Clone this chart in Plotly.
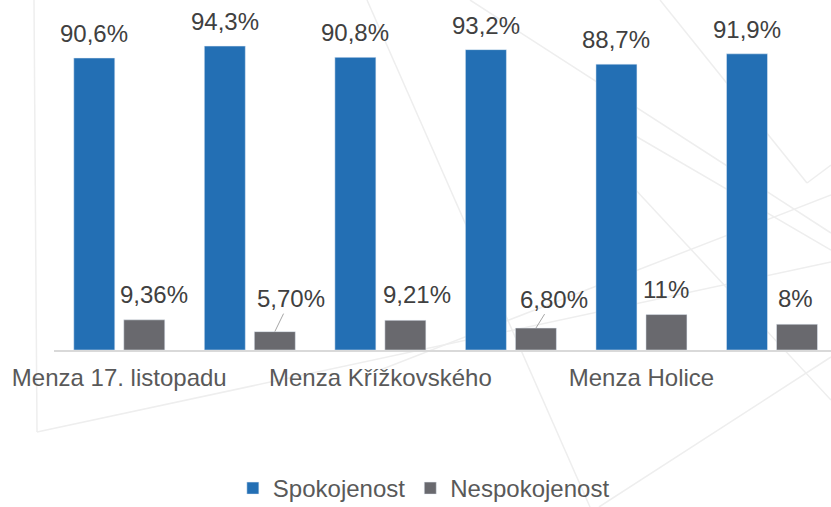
import plotly.graph_objects as go

# ---- data ----
menzy = ["Menza 17. listopadu", "Menza Křížkovského", "Menza Holice"]
spokojenost = [90.6, 94.3, 90.8, 93.2, 88.7, 91.9]
nespokojenost = [9.36, 5.70, 9.21, 6.80, 11, 8]
spok_labels = ["90,6%", "94,3%", "90,8%", "93,2%", "88,7%", "91,9%"]
nesp_labels = ["9,36%", "5,70%", "9,21%", "6,80%", "11%", "8%"]

# ---- styling ----
W, H = 831, 507
ML, MR, MT, MB = 54, 0, 0, 157
FONT = "Liberation Sans, Arial, sans-serif"
BLUE = "#236fb4"
GRAY = "#69696e"
LABEL_C = "#404040"
AXIS_C = "#595959"

xs = list(range(len(spokojenost)))

fig = go.Figure()
fig.add_trace(go.Bar(name="Spokojenost", x=xs, y=spokojenost,
                     marker=dict(color=BLUE), hoverinfo="skip"))
fig.add_trace(go.Bar(name="Nespokojenost", x=xs, y=nespokojenost,
                     marker=dict(color=GRAY), hoverinfo="skip"))

annotations = []
# blue labels, centered above bars
for i, (v, t) in enumerate(zip(spokojenost, spok_labels)):
    annotations.append(dict(x=i, y=v, xref="x", yref="y", text=t, showarrow=False,
                            xanchor="center", yanchor="bottom", xshift=-25, yshift=9,
                            font=dict(family=FONT, size=24, color=LABEL_C)))
# gray labels (some manually offset as in the original, two with leader lines)
nesp_dx = [10, 16, 11.5, 18, 0, -1]
nesp_leader = [False, True, False, True, False, False]
nesp_ay = [0, -33, 0, -29, 0, 0]
for i, (v, t) in enumerate(zip(nespokojenost, nesp_labels)):
    if nesp_leader[i]:
        annotations.append(dict(x=i, y=v, xref="x", yref="y", text=t, showarrow=True,
                                arrowhead=0, arrowwidth=1, arrowcolor="#a6a6a6",
                                ax=nesp_dx[i], ay=nesp_ay[i], xshift=25,
                                font=dict(family=FONT, size=24, color=LABEL_C)))
    else:
        annotations.append(dict(x=i, y=v, xref="x", yref="y", text=t, showarrow=False,
                                xanchor="center", yanchor="bottom", xshift=25 + nesp_dx[i], yshift=10,
                                font=dict(family=FONT, size=24, color=LABEL_C)))

# faint decorative background lines (pixel coordinates -> paper)
pw = W - ML - MR
ph = H - MT - MB
def px(x):
    return (x - ML) / pw
def py(y):
    return (H - MB - y) / ph

deco = [
    ((34, 0), (37, 432)),
    ((37, 432), (831, 262)),
    ((367, 0), (590, 507)),
    ((470, 0), (831, 233)),
    ((660, 0), (807, 183)),
    ((807, 183), (831, 165)),
    ((620, 127), (831, 250)),
    ((831, 195), (380, 370)),
    ((633, 187), (831, 400)),
    ((831, 357), (599, 507)),
]
shapes = []
for (x0, y0), (x1, y1) in deco:
    shapes.append(dict(type="line", xref="paper", yref="paper",
                       x0=px(x0), y0=py(y0), x1=px(x1), y1=py(y1),
                       line=dict(color="#eeeeee", width=1.5), layer="below"))

fig.update_layout(
    width=W, height=H,
    margin=dict(l=ML, r=MR, t=MT, b=MB, pad=0, autoexpand=False),
    paper_bgcolor="white", plot_bgcolor="rgba(0,0,0,0)",
    barmode="group", bargap=0.234, bargroupgap=0.18,
    font=dict(family=FONT, size=24, color=AXIS_C),
    showlegend=True,
    legend=dict(orientation="h", x=0.476, xanchor="center", y=-0.46, yanchor="bottom",
                font=dict(family=FONT, size=24, color=AXIS_C),
                bgcolor="rgba(0,0,0,0)", itemclick=False, itemdoubleclick=False),
    annotations=annotations,
    shapes=shapes,
)
fig.update_xaxes(range=[-0.5, 5.452], tickmode="array", tickvals=[0, 2, 4], ticktext=menzy,
                 showline=True, linecolor="#d9d9d9", linewidth=2, ticks="",
                 ticklabelstandoff=5,
                 showgrid=False, zeroline=False, fixedrange=True, automargin=False,
                 tickfont=dict(family=FONT, size=24, color=AXIS_C))
fig.update_yaxes(range=[0, 108.6], visible=False, showgrid=False, zeroline=False,
                 fixedrange=True, automargin=False)

fig.write_html("out.html", config={"displayModeBar": False},
               post_script="document.body.style.margin='0';document.body.style.overflow='hidden';")
